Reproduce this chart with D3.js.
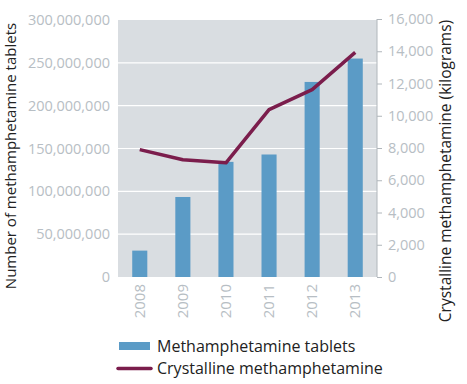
<!DOCTYPE html>
<html>
<head>
<meta charset="utf-8">
<script src="https://cdn.jsdelivr.net/npm/d3@7"></script>
<style>
  body { margin: 0; background: #fff; }
  svg text { font-family: "Open Sans", sans-serif; }
</style>
</head>
<body>
<svg id="chart" width="467" height="384"></svg>
<script>
// --- Data ---
const years = ["2008", "2009", "2010", "2011", "2012", "2013"];
const tablets = [30800000, 93400000, 134400000, 143000000, 227700000, 255000000];
const crystalKg = [7900, 7270, 7080, 10380, 11620, 13930];
const leftTicks = [0, 50000000, 100000000, 150000000, 200000000, 250000000, 300000000];
const rightTicks = [0, 2000, 4000, 6000, 8000, 10000, 12000, 14000, 16000];
const legendLabels = ["Methamphetamine tablets", "Crystalline methamphetamine"];

// --- Setup ---
const svg = d3.select("#chart");
const margin = { top: 20, right: 90, bottom: 107, left: 118 };
const width = 467 - margin.left - margin.right;
const height = 384 - margin.top - margin.bottom;

const barColor = "#5b9bc6";
const lineColor = "#7b1d4c";
const tickColor = "#b7bec4";

const g = svg.append("g").attr("transform", `translate(${margin.left},${margin.top})`);

const x = d3.scaleBand().domain(years).range([0, width]).paddingInner(0.65).paddingOuter(0.33);
const yL = d3.scaleLinear().domain([0, 300000000]).range([height, 0]);
const yR = d3.scaleLinear().domain([0, 16000]).range([height, -1]);

// plot background
g.append("rect")
    .attr("width", width).attr("height", height)
    .attr("fill", "#d9dde1");

// gridlines
g.selectAll(".grid").data(leftTicks.slice(1, -1)).enter().append("line")
    .attr("x1", 0).attr("x2", width)
    .attr("y1", d => yL(d)).attr("y2", d => yL(d))
    .attr("stroke", "#fff").attr("stroke-width", 1.2);

// bars
g.selectAll(".bar").data(years).enter().append("rect")
    .attr("x", d => x(d))
    .attr("width", x.bandwidth())
    .attr("y", (d, i) => yL(tablets[i]))
    .attr("height", (d, i) => height - yL(tablets[i]))
    .attr("fill", barColor);

// line
const line = d3.line()
    .x((d, i) => x(years[i]) + x.bandwidth() / 2)
    .y(d => yR(d));
g.append("path").datum(crystalKg)
    .attr("d", line)
    .attr("fill", "none")
    .attr("stroke", lineColor)
    .attr("stroke-width", 3.5)
    .attr("stroke-linejoin", "round");

// left axis
const leftAxis = g.append("g")
    .call(d3.axisLeft(yL).tickValues(leftTicks).tickSize(0).tickPadding(8).tickFormat(d3.format(",")));
leftAxis.select(".domain").remove();
leftAxis.selectAll("text").attr("fill", tickColor).style("font-size", "14.5px");

// right axis
const rightAxis = g.append("g")
    .attr("transform", `translate(${width},0)`)
    .call(d3.axisRight(yR).tickValues(rightTicks).tickSize(5).tickPadding(6).tickFormat(d3.format(",")));
rightAxis.select(".domain").attr("stroke", "#b0b6bb").attr("d", `M0,${height}V${yR(16000)}`);
rightAxis.selectAll(".tick line").attr("stroke", "#b0b6bb");
rightAxis.selectAll("text").attr("fill", tickColor).style("font-size", "14.5px");

// x labels (rotated)
g.selectAll(".year").data(years).enter().append("text")
    .attr("transform", d => `translate(${x(d) + x.bandwidth() / 2 + 5},${height + 7}) rotate(-90)`)
    .attr("text-anchor", "end")
    .attr("fill", tickColor)
    .style("font-size", "15px")
    .text(d => d);

// axis titles
svg.append("text")
    .attr("transform", "translate(16,156) rotate(-90)")
    .attr("text-anchor", "middle")
    .attr("fill", "#222")
    .style("font-size", "15px")
    .text("Number of methamphetamine tablets");

svg.append("text")
    .attr("transform", "translate(451,171) rotate(-90)")
    .attr("text-anchor", "middle")
    .attr("fill", "#222")
    .style("font-size", "15.5px")
    .text("Crystalline methamphetamine (kilograms)");

// legend
const legend = svg.append("g").attr("transform", "translate(118,340)");
legend.append("rect").attr("x", 1).attr("y", 2).attr("width", 31).attr("height", 8).attr("fill", barColor);
legend.append("text").attr("x", 39).attr("y", 12).attr("fill", "#222").style("font-size", "16px").text(legendLabels[0]);
legend.append("line").attr("x1", 0).attr("x2", 33).attr("y1", 28.5).attr("y2", 28.5)
    .attr("stroke", lineColor).attr("stroke-width", 3.5).attr("stroke-linecap", "round");
legend.append("text").attr("x", 39).attr("y", 34).attr("fill", "#222").style("font-size", "16px").text(legendLabels[1]);
</script>
</body>
</html>
